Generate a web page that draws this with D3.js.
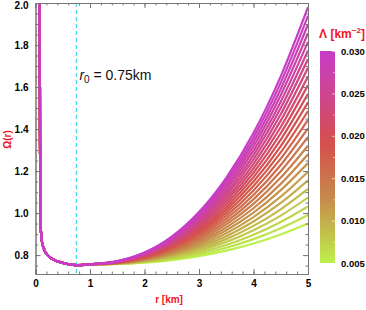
<!DOCTYPE html>
<html lang="en">
<head>
<meta charset="UTF-8">
<script src="https://d3js.org/d3.v7.min.js"></script>
<style>
    body { margin: 0; background: #fff; }
    text { font-family: "Liberation Sans", Arial, sans-serif; }
    .tick text { font-size: 10px; font-weight: bold; fill: #000; }
    .axis path, .axis line { stroke: #777; }
</style>
</head>
<body>
<svg id="chart" width="366" height="310"></svg>
<script>
    // Lambda values [km^-2], one curve each
    const lambdaValues = [0.005, 0.006, 0.007, 0.008, 0.009, 0.010, 0.011, 0.012, 0.013,
        0.014, 0.015, 0.016, 0.017, 0.018, 0.019, 0.020, 0.021, 0.022, 0.023, 0.024,
        0.025, 0.026, 0.027, 0.028, 0.029, 0.030];

    // common part near the throat (same for every Lambda)
    const innerR = [0.080, 0.0815, 0.083, 0.085, 0.088, 0.092, 0.097, 0.105, 0.115, 0.13, 0.15,
        0.18, 0.22, 0.28, 0.35, 0.42, 0.5, 0.6, 0.75];
    const innerOmega = [2.20, 1.60, 1.35, 1.18, 1.06, 0.98, 0.93, 0.895, 0.87, 0.85, 0.833,
        0.815, 0.800, 0.786, 0.776, 0.769, 0.763, 0.757, 0.752];

    // outer part, one row per Lambda
    const outerR = [1, 1.5, 2, 2.5, 3, 3.5, 4, 4.5, 5];
    const outerOmega = [
        [0.755, 0.758, 0.764, 0.776, 0.795, 0.821, 0.855, 0.898, 0.950],
        [0.755, 0.758, 0.766, 0.781, 0.803, 0.835, 0.876, 0.928, 0.991],
        [0.755, 0.759, 0.768, 0.785, 0.812, 0.848, 0.897, 0.958, 1.032],
        [0.755, 0.759, 0.770, 0.790, 0.820, 0.862, 0.918, 0.988, 1.074],
        [0.755, 0.760, 0.772, 0.794, 0.828, 0.876, 0.939, 1.018, 1.115],
        [0.755, 0.760, 0.774, 0.799, 0.837, 0.890, 0.960, 1.048, 1.156],
        [0.755, 0.761, 0.776, 0.803, 0.845, 0.904, 0.981, 1.078, 1.197],
        [0.755, 0.761, 0.778, 0.808, 0.854, 0.918, 1.002, 1.109, 1.238],
        [0.755, 0.762, 0.780, 0.812, 0.862, 0.932, 1.023, 1.139, 1.280],
        [0.755, 0.762, 0.782, 0.817, 0.870, 0.946, 1.044, 1.169, 1.321],
        [0.756, 0.763, 0.783, 0.821, 0.879, 0.959, 1.065, 1.199, 1.362],
        [0.756, 0.763, 0.785, 0.826, 0.887, 0.973, 1.086, 1.229, 1.403],
        [0.756, 0.764, 0.787, 0.830, 0.896, 0.987, 1.108, 1.259, 1.444],
        [0.756, 0.765, 0.789, 0.835, 0.904, 1.001, 1.129, 1.289, 1.486],
        [0.756, 0.765, 0.791, 0.839, 0.912, 1.015, 1.150, 1.319, 1.527],
        [0.756, 0.766, 0.793, 0.843, 0.921, 1.029, 1.171, 1.350, 1.568],
        [0.756, 0.766, 0.795, 0.848, 0.929, 1.043, 1.192, 1.380, 1.609],
        [0.756, 0.767, 0.797, 0.852, 0.938, 1.057, 1.213, 1.410, 1.650],
        [0.756, 0.767, 0.799, 0.857, 0.946, 1.070, 1.234, 1.440, 1.692],
        [0.756, 0.768, 0.801, 0.861, 0.954, 1.084, 1.255, 1.470, 1.733],
        [0.756, 0.768, 0.803, 0.866, 0.963, 1.098, 1.276, 1.500, 1.774],
        [0.756, 0.769, 0.805, 0.870, 0.971, 1.112, 1.297, 1.530, 1.815],
        [0.756, 0.769, 0.807, 0.875, 0.980, 1.126, 1.318, 1.561, 1.856],
        [0.756, 0.770, 0.809, 0.879, 0.988, 1.140, 1.339, 1.591, 1.898],
        [0.756, 0.770, 0.811, 0.884, 0.996, 1.154, 1.360, 1.621, 1.939],
        [0.756, 0.771, 0.812, 0.888, 1.005, 1.168, 1.381, 1.651, 1.980]
    ];

    const xTicks = [0, 1, 2, 3, 4, 5];
    const yTicks = [0.8, 1.0, 1.2, 1.4, 1.6, 1.8, 2.0];
    const barTicks = [0.005, 0.010, 0.015, 0.020, 0.025, 0.030];
    const r0 = 0.75;

    const svg = d3.select("#chart");
    const margin = { top: 3, right: 58, bottom: 36, left: 35.5 };
    const width = 366, height = 310;

    const x = d3.scaleLinear().domain([0, 5]).range([margin.left, width - margin.right]);
    const y = d3.scaleLinear().domain([0.71, 2.0]).range([height - margin.bottom, margin.top]);

    const color = d3.scaleLinear()
        .domain([0.005, 0.0125, 0.019, 0.030])
        .range(["#bdf04a", "#c68c4c", "#d5504c", "#c83cc8"]);

    svg.append("clipPath").attr("id", "clip")
        .append("rect")
        .attr("x", x(0)).attr("y", y(2.0))
        .attr("width", x(5) - x(0)).attr("height", y(0.71) - y(2.0));

    const line = d3.line()
        .x(d => x(d[0]))
        .y(d => y(d[1]))
        .curve(d3.curveMonotoneX);

    const series = lambdaValues.map((lam, i) => ({
        lam: lam,
        pts: innerR.map((r, j) => [r, innerOmega[j]])
            .concat(outerR.map((r, j) => [r, outerOmega[i][j]]))
    }));

    // dashed r0 marker
    svg.append("line")
        .attr("x1", x(r0)).attr("x2", x(r0))
        .attr("y1", y(2.0)).attr("y2", y(0.71))
        .attr("stroke", "#3fdcec")
        .attr("stroke-width", 1.2)
        .attr("stroke-dasharray", "4,3");

    svg.append("g").attr("clip-path", "url(#clip)")
        .selectAll("path")
        .data(series)
        .enter().append("path")
        .attr("d", d => line(d.pts))
        .attr("fill", "none")
        .attr("stroke", d => color(d.lam))
        .attr("stroke-width", 2.2);

    // frame with inward ticks
    const bottom = height - margin.bottom;
    const right = width - margin.right;

    function frame(g, axis) { g.attr("class", "axis").call(axis); }

    svg.append("g").attr("transform", `translate(0,${bottom})`)
        .call(g => frame(g, d3.axisBottom(x).tickValues(d3.range(0, 5.01, 0.2)).tickSize(-2.5).tickFormat("")));
    svg.append("g").attr("transform", `translate(0,${bottom})`)
        .call(g => frame(g, d3.axisBottom(x).tickValues(xTicks).tickSize(-5).tickPadding(6).tickFormat(d3.format("d"))));
    svg.append("g").attr("transform", `translate(0,${margin.top})`)
        .call(g => frame(g, d3.axisTop(x).tickValues(d3.range(0, 5.01, 0.2)).tickSize(-2.5).tickFormat("")));
    svg.append("g").attr("transform", `translate(0,${margin.top})`)
        .call(g => frame(g, d3.axisTop(x).tickValues(xTicks).tickSize(-5).tickFormat("")));

    svg.append("g").attr("transform", `translate(${margin.left},0)`)
        .call(g => frame(g, d3.axisLeft(y).tickValues(d3.range(0.75, 2.001, 0.05)).tickSize(-2.5).tickFormat("")));
    const yAxis = svg.append("g").attr("transform", `translate(${margin.left},0)`)
        .call(g => frame(g, d3.axisLeft(y).tickValues(yTicks).tickSize(-5).tickPadding(7).tickFormat(d3.format(".1f"))));
    // keep the top label inside the page
    yAxis.selectAll(".tick text").filter(d => d === 2.0).attr("dy", "0.55em");
    svg.append("g").attr("transform", `translate(${right},0)`)
        .call(g => frame(g, d3.axisRight(y).tickValues(d3.range(0.75, 2.001, 0.05)).tickSize(-2.5).tickFormat("")));
    svg.append("g").attr("transform", `translate(${right},0)`)
        .call(g => frame(g, d3.axisRight(y).tickValues(yTicks).tickSize(-5).tickFormat("")));

    // axis labels
    svg.append("text")
        .attr("x", x(2.45)).attr("y", 303)
        .attr("text-anchor", "middle")
        .attr("fill", "#f0141e").attr("font-size", 10).attr("font-weight", "bold")
        .text("r [km]");
    svg.append("text")
        .attr("transform", `translate(11,${y(1.35)}) rotate(-90)`)
        .attr("text-anchor", "middle")
        .attr("fill", "#f0141e").attr("font-size", 10).attr("font-weight", "bold")
        .text("Ω(r)");

    // r0 annotation
    const ann = svg.append("text")
        .attr("x", x(r0) + 3).attr("y", 80)
        .attr("font-size", 14).attr("fill", "#111");
    ann.append("tspan").attr("font-style", "italic").text("r");
    ann.append("tspan").attr("font-size", 10).attr("dy", 3).text("0");
    ann.append("tspan").attr("dy", -3).text(" = 0.75km");

    // colour bar
    const bar = d3.scaleLinear().domain([0.005, 0.030]).range([263, 51]);
    const barX = 320, barW = 15;
    const grad = svg.append("defs").append("linearGradient")
        .attr("id", "grad").attr("x1", 0).attr("y1", 1).attr("x2", 0).attr("y2", 0);
    d3.range(0, 1.0001, 0.05).forEach(t => {
        const v = 0.005 + t * 0.025;
        grad.append("stop").attr("offset", t).attr("stop-color", color(v));
    });
    svg.append("rect")
        .attr("x", barX).attr("y", bar(0.030))
        .attr("width", barW).attr("height", bar(0.005) - bar(0.030))
        .attr("fill", "url(#grad)");

    const barAxis = svg.append("g").attr("transform", `translate(${barX + barW},0)`)
        .call(d3.axisRight(bar).tickValues(barTicks).tickSize(-3).tickPadding(6).tickFormat(d3.format(".3f")));
    barAxis.select(".domain").remove();
    barAxis.selectAll("text").style("font-size", "9.5px");
    barAxis.selectAll("line").attr("stroke", "#fff").attr("stroke-opacity", 0.6);
    svg.append("g").attr("transform", `translate(${barX + barW},0)`)
        .call(d3.axisRight(bar).tickValues(d3.range(0.0075, 0.03, 0.005)).tickSize(-2).tickFormat(""))
        .call(g => g.select(".domain").remove())
        .call(g => g.selectAll("line").attr("stroke", "#fff").attr("stroke-opacity", 0.5));

    const title = svg.append("text")
        .attr("x", 342).attr("y", 38)
        .attr("text-anchor", "middle")
        .attr("fill", "#f0141e").attr("font-size", 12).attr("font-weight", "bold");
    title.append("tspan").text("Λ [km");
    title.append("tspan").attr("font-size", 8).attr("dy", -5).text("−2");
    title.append("tspan").attr("dy", 5).text("]");
</script>
</body>
</html>
